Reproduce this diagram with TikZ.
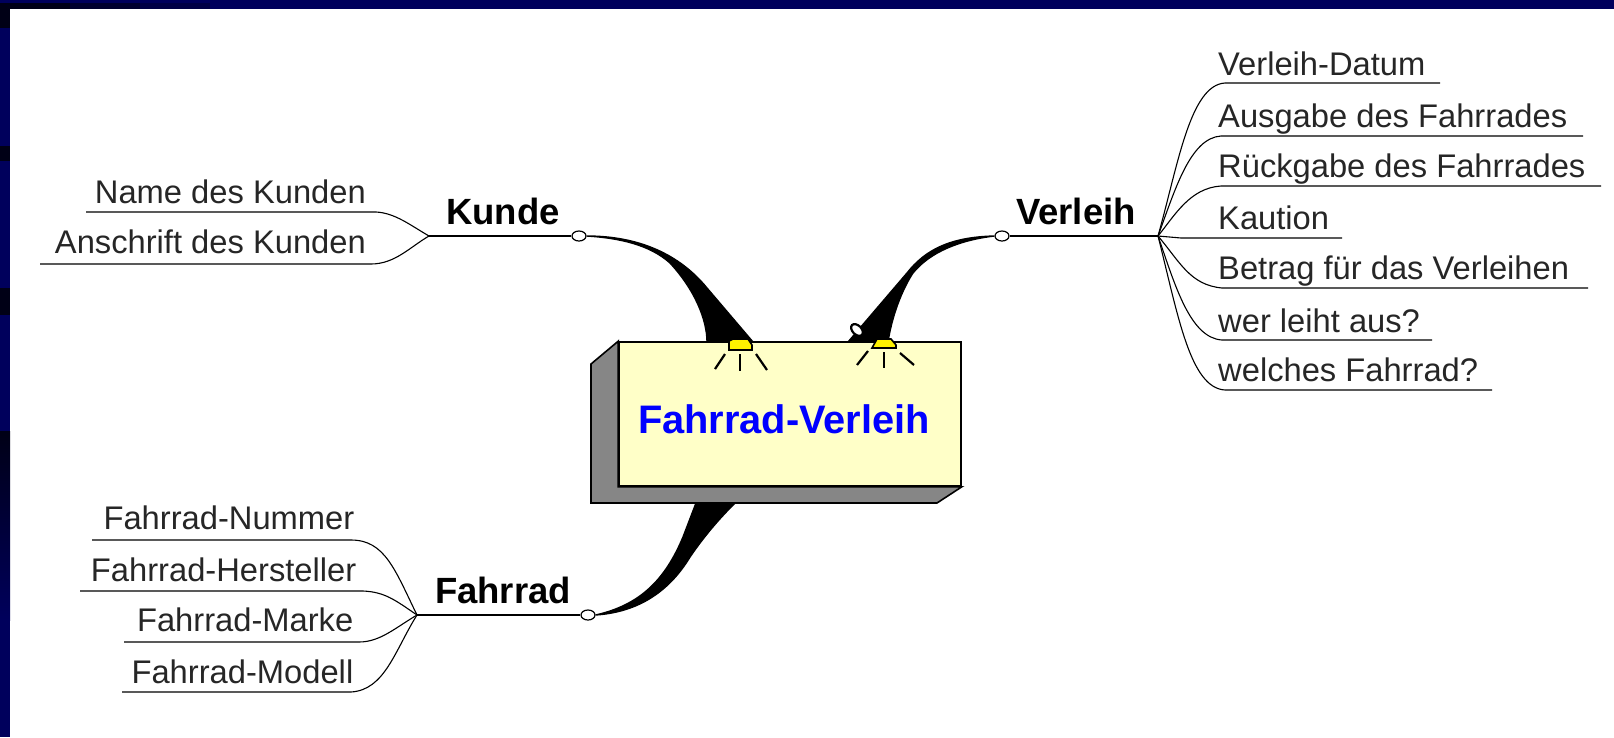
\documentclass[tikz,border=0pt]{standalone}
\usepackage{fontspec}
\setmainfont{Liberation Sans}
\usepackage{xcolor}
\usetikzlibrary{shapes.geometric,calc}
\definecolor{frameNavy}{RGB}{0,0,92}
\definecolor{frameDark}{RGB}{0,0,22}
\definecolor{boxYellow}{RGB}{255,255,200}
\definecolor{boxGray}{RGB}{134,134,134}

\begin{document}
\begin{tikzpicture}[x=1pt, y=-1pt,
    leaf text/.style={font=\fontsize{32.7}{36}\selectfont, text=black!85, inner sep=0pt},
    leaf line/.style={draw, line width=1.1pt},
    branch label/.style={font=\fontsize{36.5}{38}\selectfont\bfseries, inner sep=0pt},
    branch dot/.style={draw, fill=white, ellipse, line width=1.2pt, minimum width=14pt, minimum height=10pt, inner sep=0pt},
    thick branch/.style={fill=black, draw=black, line width=1.4pt},
    main box/.style={draw, fill=boxYellow, line width=1.6pt, minimum width=342pt, minimum height=144pt, inner sep=0pt},
    lamp/.style={draw, fill=yellow, line width=1.6pt},
    ray/.style={draw, line width=2.2pt}]
    \useasboundingbox (0,0) rectangle (1614,737);

    % frame
    \fill[frameNavy] (0,0) rectangle (1614,9);
    \fill[frameNavy] (0,0) rectangle (10,737);
    \fill[frameDark] (0,3) rectangle (70,9);
    \fill[frameDark!66!frameNavy] (70,3) rectangle (140,9);
    \fill[frameDark!33!frameNavy] (140,3) rectangle (210,9);
    \fill[frameDark] (0,3) rectangle (10,28);
    \fill[frameDark] (0,146) rectangle (10,161);
    \fill[frameDark] (0,288) rectangle (10,315);
    \shade[top color=frameDark, bottom color=frameNavy] (0,431) rectangle (10,620);

    % branches
    \node[branch dot] (kundeDot) at (579,236) {};
    \node[branch dot] (verleihDot) at (1002,236) {};
    \node[branch dot] (fahrradDot) at (588,615) {};
    \path[thick branch] (kundeDot.east) .. controls (640,236) and (680,255) .. (707,288) -- (753,342) -- (707,342)
        .. controls (707,320) and (695,290) .. (670,263) .. controls (650,245) and (620,238) .. (kundeDot.east);
    \path[thick branch] (verleihDot.west) .. controls (950,237) and (925,250) .. (907,273) -- (848,342) -- (888,342)
        .. controls (893,310) and (905,285) .. (913,273) .. controls (930,252) and (960,240) .. (verleihDot.west);
    \path[thick branch] (fahrradDot.east) .. controls (640,605) and (665,580) .. (683,537) -- (696,503) -- (735,503)
        .. controls (720,518) and (705,535) .. (690,557) .. controls (670,590) and (640,612) .. (fahrradDot.east);
    \node[ellipse, draw, fill=white, line width=2.2pt, minimum width=14pt, minimum height=9pt, inner sep=0pt, rotate=-45] (verleihLoop) at (857,330) {};

    % main box
    \node[main box] (box) at (790,414) {};
    \filldraw[fill=boxGray, line width=1.6pt] (box.north west) -- (591,364) -- (591,503) -- (937,503) -- (box.south east) -- (box.south west) -- cycle;
    \node[font=\fontsize{39.8}{42}\selectfont\bfseries, text=blue, inner sep=0pt, anchor=base] (title) at (784,433) {Fahrrad-Verleih};

    % lamps
    \path[lamp] (729,350) -- (729,341) -- (733,339) -- (748,339) -- (752,345) -- (752,350) -- cycle;
    \path[ray] (725,354) -- (715,369);
    \path[ray] (740,354) -- (740,371);
    \path[ray] (756,354) -- (767,370);
    \path[lamp] (872,348) -- (877,339) -- (891,339) -- (896,345) -- (896,348) -- cycle;
    \path[ray] (868,351) -- (857,365);
    \path[ray] (884,352) -- (884,368);
    \path[ray] (900,353) -- (914,365);

    % Kunde
    \coordinate (kundeHub) at (429,236);
    \node[branch label, anchor=base] (kunde) at (503,224) {Kunde};
    \draw[leaf line] (kundeHub) -- (kundeDot);
    \node[leaf text, anchor=base east] (name) at (366,203) {Name des Kunden};
    \node[leaf text, anchor=base east] (anschrift) at (366,253) {Anschrift des Kunden};
    \coordinate (nameA) at (376,212); \coordinate (nameB) at (86,212);
    \coordinate (anschriftA) at (371,264); \coordinate (anschriftB) at (40,264);
    \draw[leaf line] (kundeHub) .. controls (410,225) and (395,213) .. (nameA) -- (nameB);
    \draw[leaf line] (kundeHub) .. controls (410,247) and (395,264) .. (anschriftA) -- (anschriftB);

    % Fahrrad
    \coordinate (fahrradHub) at (417,615);
    \node[branch label, anchor=base] (fahrrad) at (503,603) {Fahrrad};
    \draw[leaf line] (fahrradHub) -- (fahrradDot);
    \node[leaf text, anchor=base east] (nummer) at (354.5,529) {Fahrrad-Nummer};
    \node[leaf text, anchor=base east] (hersteller) at (356.5,581) {Fahrrad-Hersteller};
    \node[leaf text, anchor=base east] (marke) at (353.5,631) {Fahrrad-Marke};
    \node[leaf text, anchor=base east] (modell) at (353.5,683) {Fahrrad-Modell};
    \coordinate (nummerA) at (351,540); \coordinate (nummerB) at (92,540);
    \coordinate (herstellerA) at (363,591); \coordinate (herstellerB) at (80,591);
    \coordinate (markeA) at (359,642); \coordinate (markeB) at (124,642);
    \coordinate (modellA) at (351,692); \coordinate (modellB) at (122,692);
    \draw[leaf line] (fahrradHub) .. controls (395,570) and (385,540) .. (nummerA) -- (nummerB);
    \draw[leaf line] (fahrradHub) .. controls (395,600) and (385,592) .. (herstellerA) -- (herstellerB);
    \draw[leaf line] (fahrradHub) .. controls (395,628) and (380,642) .. (markeA) -- (markeB);
    \draw[leaf line] (fahrradHub) .. controls (395,650) and (385,690) .. (modellA) -- (modellB);

    % Verleih
    \coordinate (verleihHub) at (1158,236);
    \node[branch label, anchor=base] (verleih) at (1076,224) {Verleih};
    \draw[leaf line] (verleihHub) -- (verleihDot);
    \node[leaf text, anchor=base west] (datum) at (1218,75) {Verleih-Datum};
    \node[leaf text, anchor=base west] (ausgabe) at (1218,127) {Ausgabe des Fahrrades};
    \node[leaf text, anchor=base west] (rueckgabe) at (1218,177) {Rückgabe des Fahrrades};
    \node[leaf text, anchor=base west] (kaution) at (1218,229) {Kaution};
    \node[leaf text, anchor=base west] (betrag) at (1218,279) {Betrag für das Verleihen};
    \node[leaf text, anchor=base west] (wer) at (1218,332) {wer leiht aus?};
    \node[leaf text, anchor=base west] (welches) at (1218,381) {welches Fahrrad?};
    \coordinate (datumA) at (1225,83); \coordinate (datumB) at (1440,83);
    \coordinate (ausgabeA) at (1221,136); \coordinate (ausgabeB) at (1583,136);
    \coordinate (rueckgabeA) at (1221,186); \coordinate (rueckgabeB) at (1601,186);
    \coordinate (kautionA) at (1181,238); \coordinate (kautionB) at (1342,238);
    \coordinate (betragA) at (1222,288); \coordinate (betragB) at (1588,288);
    \coordinate (werA) at (1222,340); \coordinate (werB) at (1432,340);
    \coordinate (welchesA) at (1225,390); \coordinate (welchesB) at (1492,390);
    \draw[leaf line] (verleihHub) .. controls (1178,165) and (1190,85) .. (datumA) -- (datumB);
    \draw[leaf line] (verleihHub) .. controls (1175,190) and (1190,138) .. (ausgabeA) -- (ausgabeB);
    \draw[leaf line] (verleihHub) .. controls (1175,215) and (1190,188) .. (rueckgabeA) -- (rueckgabeB);
    \draw[leaf line] (verleihHub) -- (kautionA) -- (kautionB);
    \draw[leaf line] (verleihHub) .. controls (1180,262) and (1190,285) .. (betragA) -- (betragB);
    \draw[leaf line] (verleihHub) .. controls (1175,285) and (1190,338) .. (werA) -- (werB);
    \draw[leaf line] (verleihHub) .. controls (1178,315) and (1190,388) .. (welchesA) -- (welchesB);
\end{tikzpicture}
\end{document}
